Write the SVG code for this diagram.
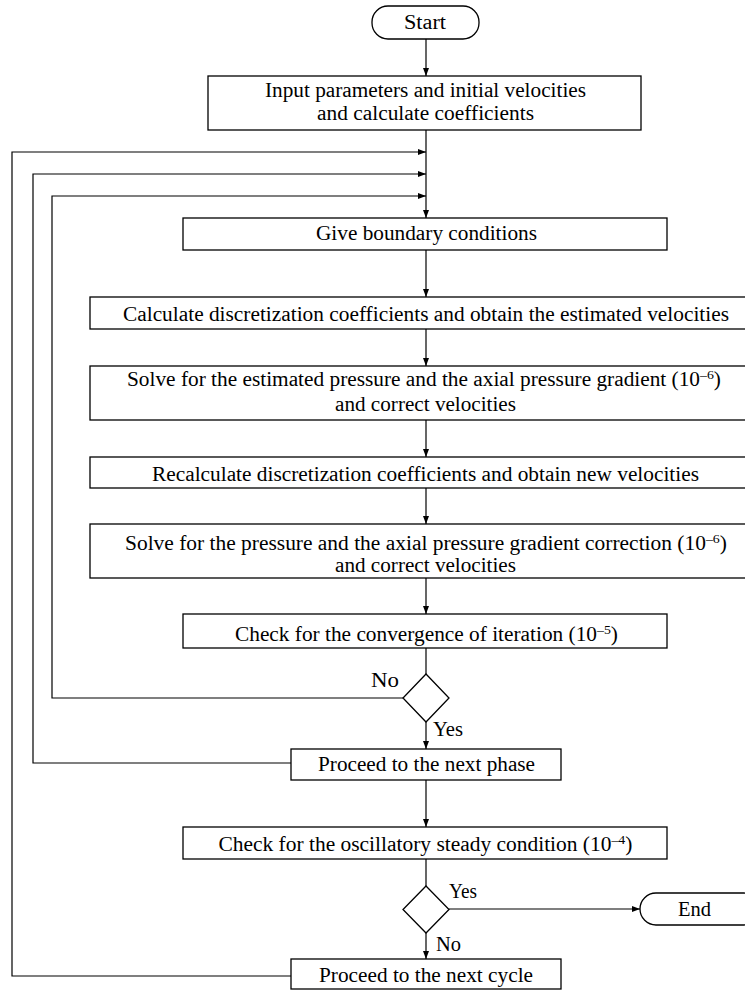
<svg xmlns="http://www.w3.org/2000/svg" width="745" height="990" viewBox="0 0 745 990">
<style>
.box{fill:#fff;stroke:#000;stroke-width:1.3}
.t{font-size:20px;fill:#000}
.c{text-anchor:middle}
.ln{fill:none;stroke:#000;stroke-width:1.2}
.sup{font-size:13px}
</style>
<defs>
<marker id="ah" markerUnits="userSpaceOnUse" markerWidth="9" markerHeight="6" refX="8" refY="3" orient="auto">
<path d="M0,0 L8,3 L0,6 z" fill="#000"/>
</marker>
</defs>
<rect width="745" height="990" fill="#fff"/>
<g id="connectors">
<path class="ln" d="M426 39 V76" marker-end="url(#ah)"/>
<path class="ln" d="M426 130 V218" marker-end="url(#ah)"/>
<path class="ln" d="M291 976 H12 V152 H426" marker-end="url(#ah)"/>
<path class="ln" d="M291 763 H33 V174 H426" marker-end="url(#ah)"/>
<path class="ln" d="M403 698 H52 V196 H426" marker-end="url(#ah)"/>
<path class="ln" d="M426 250 V297" marker-end="url(#ah)"/>
<path class="ln" d="M426 329 V366" marker-end="url(#ah)"/>
<path class="ln" d="M426 420 V457" marker-end="url(#ah)"/>
<path class="ln" d="M426 488 V524" marker-end="url(#ah)"/>
<path class="ln" d="M426 578 V614" marker-end="url(#ah)"/>
<path class="ln" d="M426 648 V674"/>
<path class="ln" d="M426 722 V749" marker-end="url(#ah)"/>
<path class="ln" d="M426 780 V827" marker-end="url(#ah)"/>
<path class="ln" d="M426 859 V886"/>
<path class="ln" d="M449 909 H640" marker-end="url(#ah)"/>
<path class="ln" d="M426 933 V959" marker-end="url(#ah)"/>
</g>
<g font-family="'Liberation Serif', 'Times New Roman', Times, serif">
<g id="start">
<rect class="box" x="372" y="6" width="107" height="33" rx="16" ry="16"/>
<text class="t c" x="425" y="28.5" textLength="42" lengthAdjust="spacingAndGlyphs">Start</text>
</g>
<g id="input">
<rect class="box" x="208" y="76" width="433" height="54"/>
<text class="t c" x="425.5" y="97" textLength="321" lengthAdjust="spacingAndGlyphs">Input parameters and initial velocities</text>
<text class="t c" x="425.5" y="120" textLength="217" lengthAdjust="spacingAndGlyphs">and calculate coefficients</text>
</g>
<g id="boundary">
<rect class="box" x="183" y="218" width="484" height="32"/>
<text class="t c" x="426.5" y="240" textLength="221" lengthAdjust="spacingAndGlyphs">Give boundary conditions</text>
</g>
<g id="calc">
<rect class="box" x="90" y="297" width="660" height="32"/>
<text class="t c" x="426" y="321" textLength="606" lengthAdjust="spacingAndGlyphs">Calculate discretization coefficients and obtain the estimated velocities</text>
</g>
<g id="solveEst">
<rect class="box" x="90" y="366" width="660" height="54"/>
<text class="t" x="127" y="385.5" textLength="594" lengthAdjust="spacingAndGlyphs">Solve for the estimated pressure and the axial pressure gradient (10<tspan class="sup" dy="-7">–6</tspan><tspan dy="7">)</tspan></text>
<text class="t c" x="425.5" y="411" textLength="181" lengthAdjust="spacingAndGlyphs">and correct velocities</text>
</g>
<g id="recalc">
<rect class="box" x="90" y="457" width="660" height="31"/>
<text class="t c" x="425.5" y="480.5" textLength="547" lengthAdjust="spacingAndGlyphs">Recalculate discretization coefficients and obtain new velocities</text>
</g>
<g id="solvePress">
<rect class="box" x="90" y="524" width="660" height="54"/>
<text class="t" x="125" y="550" textLength="602" lengthAdjust="spacingAndGlyphs">Solve for the pressure and the axial pressure gradient correction (10<tspan class="sup" dy="-7">–6</tspan><tspan dy="7">)</tspan></text>
<text class="t c" x="425.5" y="572" textLength="181" lengthAdjust="spacingAndGlyphs">and correct velocities</text>
</g>
<g id="checkConv">
<rect class="box" x="183" y="614" width="484" height="34"/>
<text class="t" x="235" y="640.5" textLength="383" lengthAdjust="spacingAndGlyphs">Check for the convergence of iteration (10<tspan class="sup" dy="-7">–5</tspan><tspan dy="7">)</tspan></text>
</g>
<g id="decision1">
<path class="box" d="M426 674 L449 698 L426 722 L403 698 z"/>
<text class="t" x="371" y="687" textLength="28" lengthAdjust="spacingAndGlyphs">No</text>
<text class="t" x="433" y="735.5" textLength="30" lengthAdjust="spacingAndGlyphs">Yes</text>
</g>
<g id="phase">
<rect class="box" x="291" y="749" width="270" height="31"/>
<text class="t c" x="426.5" y="771" textLength="217" lengthAdjust="spacingAndGlyphs">Proceed to the next phase</text>
</g>
<g id="checkOsc">
<rect class="box" x="183" y="827" width="484" height="32"/>
<text class="t" x="218.5" y="851" textLength="414" lengthAdjust="spacingAndGlyphs">Check for the oscillatory steady condition (10<tspan class="sup" dy="-7">–4</tspan><tspan dy="7">)</tspan></text>
</g>
<g id="decision2">
<path class="box" d="M426 886 L449 909.5 L426 933 L403 909.5 z"/>
<text class="t" x="449" y="897.5" textLength="28" lengthAdjust="spacingAndGlyphs">Yes</text>
<text class="t" x="436" y="950.5" textLength="25" lengthAdjust="spacingAndGlyphs">No</text>
</g>
<g id="end">
<rect class="box" x="640" y="893" width="120" height="32" rx="16" ry="16"/>
<text class="t c" x="694.5" y="915.5" textLength="33" lengthAdjust="spacingAndGlyphs">End</text>
</g>
<g id="cycle">
<rect class="box" x="291" y="959" width="270" height="30"/>
<text class="t c" x="426" y="981.5" textLength="214" lengthAdjust="spacingAndGlyphs">Proceed to the next cycle</text>
</g>
</g>
</svg>
